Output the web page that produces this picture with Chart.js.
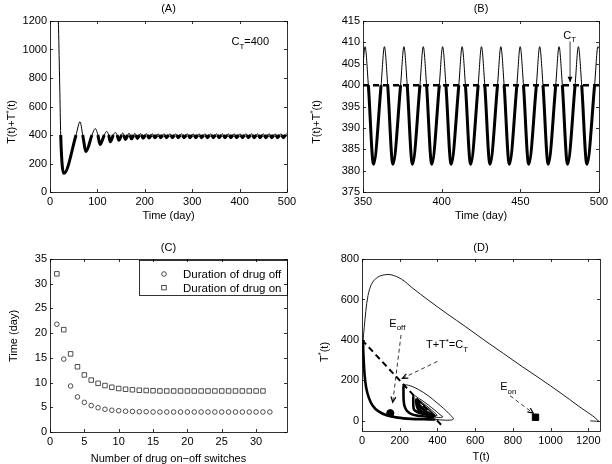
<!DOCTYPE html>
<html>
<head>
<meta charset="utf-8">
<script src="https://cdn.jsdelivr.net/npm/chart.js@4.4.0/dist/chart.umd.min.js"></script>
<style>
  body { margin: 0; background: #fff; width: 612px; height: 464px; position: relative; overflow: hidden; }
  canvas { position: absolute; }
</style>
</head>
<body>
<canvas id="panelA" width="306" height="232" style="left:0;top:0"></canvas>
<canvas id="panelB" width="306" height="232" style="left:306px;top:0"></canvas>
<canvas id="panelC" width="306" height="232" style="left:0;top:232px"></canvas>
<canvas id="panelD" width="306" height="232" style="left:306px;top:232px"></canvas>
<script>
// T(t)+T*(t) over time: C_T crossings, troughs (drug on) and peaks (drug off)
const sumTime = [
  17.2, 18.0, 20.5, 22.6, 29.5, 55.0, 63.3, 69.0,
  76.0, 88.6, 95.6, 101.0, 105.5, 114.6, 119.6, 123.8,
  127.3, 133.6, 137.9, 141.5, 145.3, 151.0, 153.3, 155.6,
  159.0, 164.3, 166.5, 168.7, 172.0, 176.8, 178.9, 181.0,
  184.4, 188.9, 191.0, 193.1, 196.4, 201.2, 203.3, 205.4,
  208.7, 213.6, 215.7, 217.8, 221.1, 225.9, 228.0, 230.1,
  233.4, 238.2, 240.3, 242.4, 245.7, 250.6, 252.7, 254.8,
  258.1, 262.9, 265.0, 267.1, 270.4, 275.2, 277.3, 279.4,
  282.7, 287.6, 289.7, 291.8, 295.1, 299.9, 302.0, 304.1,
  307.4, 312.2, 314.3, 316.4, 319.7, 324.5, 326.6, 328.7,
  332.0, 336.9, 339.0, 341.1, 344.4, 349.2, 351.3, 353.4,
  356.7, 361.5, 363.6, 365.7, 369.0, 373.9, 376.0, 378.1,
  381.4, 386.2, 388.3, 390.4, 393.7, 398.5, 400.6, 402.7,
  406.0, 410.9, 413.0, 415.1, 418.4, 423.2, 425.3, 427.4,
  430.7, 435.5, 437.6, 439.7, 443.0, 447.8, 449.9, 452.0,
  455.3, 460.2, 462.3, 464.4, 467.7, 472.5, 474.6, 476.7,
  480.0, 484.8, 486.9, 489.0, 492.3, 497.2, 499.3, 500.0
];
const sumValue = [
  1250, 1150, 750, 400, 131, 400, 493, 400,
  285, 400, 445, 400, 333, 400, 425, 400,
  352, 400, 418, 400, 363, 400, 415, 400,
  369, 400, 413, 400, 373, 400, 411.5, 400,
  376, 400, 410.5, 400, 378, 400, 410, 400,
  379.5, 400, 409.5, 400, 380.5, 400, 409.2, 400,
  381, 400, 409, 400, 381.5, 400, 409, 400,
  381.5, 400, 409, 400, 381.5, 400, 409, 400,
  381.5, 400, 409, 400, 381.5, 400, 409, 400,
  381.5, 400, 409, 400, 381.5, 400, 409, 400,
  381.5, 400, 409, 400, 381.5, 400, 409, 400,
  381.5, 400, 409, 400, 381.5, 400, 409, 400,
  381.5, 400, 409, 400, 381.5, 400, 409, 400,
  381.5, 400, 409, 400, 381.5, 400, 409, 400,
  381.5, 400, 409, 400, 381.5, 400, 409, 400,
  381.5, 400, 409, 400, 381.5, 400, 409, 400,
  381.5, 400, 409, 400, 381.5, 400, 409, 408.6
];
const ctLevel = 400;
const ctLineTime = [350, 500];

// panel C: durations per switch number
const switchNo = [1, 2, 3, 4, 5, 6, 7, 8, 9, 10, 11, 12, 13, 14, 15, 16,
  17, 18, 19, 20, 21, 22, 23, 24, 25, 26, 27, 28, 29, 30, 31, 32];
const offDuration = [21.8, 14.75, 9.3, 7.1, 6.0, 5.35, 4.9, 4.6, 4.4, 4.3, 4.2, 4.15, 4.1, 4.1, 4.05, 4.05,
  4.05, 4.05, 4.05, 4.05, 4.05, 4.05, 4.05, 4.05, 4.05, 4.05, 4.05, 4.05, 4.05, 4.05, 4.05, 4.05];
const onDuration = [32.0, 20.7, 15.8, 13.2, 11.55, 10.5, 9.85, 9.4, 9.05, 8.8, 8.65, 8.55, 8.45, 8.4, 8.35, 8.3,
  8.3, 8.3, 8.3, 8.3, 8.3, 8.3, 8.3, 8.3, 8.3, 8.3, 8.3, 8.3, 8.3, 8.3, 8.3];

// panel D: phase plane (T, T*)
const phaseT = [
  1210, 1252, 1150, 1050, 950, 850, 750, 650, 550, 450, 350, 270, 210, 154, 110, 75, 50, 32, 20, 12, 6,
  9, 14, 22, 36, 56, 86, 130, 190, 260, 330, 390,
  430, 470, 485, 462, 432, 397, 350, 300, 260, 235, 222,
  220, 221, 226, 240, 265, 305, 345, 378,
  405, 425, 428, 420, 400, 370, 335, 300, 275,
  272, 274, 285, 310, 345, 370,
  390, 398, 392, 370, 340, 310, 290,
  288, 292, 302, 320, 345, 366,
  385, 388, 383, 360, 330, 300,
  297, 302, 312, 330, 350, 368,
  385, 388, 380, 355, 325, 302,
  300, 303, 312, 325, 342, 360, 372,
  386, 388, 380, 360, 335, 312, 302,
  300, 303, 312, 325, 342, 360, 372,
  386, 388, 380, 360, 335, 312, 302
];
const phaseTs = [
  0, 1, 72, 140, 205, 268, 333, 398, 465, 530, 598, 655, 700, 722, 720, 705, 675, 620, 540, 462, 394,
  300, 225, 165, 115, 76, 48, 28, 16, 10, 8, 7,
  4, 4, 10, 35, 62, 90, 125, 155, 172, 178, 178,
  140, 100, 72, 48, 32, 24, 21, 20,
  17, 18, 22, 26, 42, 65, 90, 112, 125,
  100, 60, 48, 38, 32, 28,
  27, 27, 34, 52, 76, 96, 108,
  90, 70, 52, 40, 33, 32,
  28, 27, 32, 52, 77, 97,
  82, 66, 52, 40, 33, 30,
  27, 25, 33, 55, 80, 96,
  86, 79, 70, 58, 45, 34, 27,
  22, 21, 29, 48, 70, 88, 98,
  86, 79, 70, 58, 45, 34, 27,
  22, 21, 29, 48, 70, 88, 98
];
const ctLineT = [0, 430];
const ctLineTs = [400, -30];
const eOff = [150, 38];
const eOn = [920, 18];

const FONT = '"Liberation Sans", Arial, Helvetica, sans-serif';
Chart.defaults.font.family = FONT;
Chart.defaults.color = '#000';

function pts(xs, ys) {
    return ys.map((v, i) => ({ x: xs[i], y: v }));
}

function rich(ctx, parts, x, y, size, align) {
    const fontFor = p => (p[1] ? size * 0.72 : size) + 'px ' + FONT;
    const widths = parts.map(p => { ctx.font = fontFor(p); return ctx.measureText(p[0]).width; });
    const total = widths.reduce((a, b) => a + b, 0);
    let cx = align === 'center' ? x - total / 2 : x;
    ctx.textAlign = 'left';
    ctx.textBaseline = 'alphabetic';
    parts.forEach((p, i) => {
        ctx.font = fontFor(p);
        const dy = p[1] === 'sup' ? -size * 0.42 : (p[1] === 'sub' ? size * 0.32 : 0);
        ctx.fillText(p[0], cx, y + dy);
        cx += widths[i];
    });
}

function yTitle(ctx, parts, cx, cy) {
    ctx.save();
    ctx.translate(cx, cy);
    ctx.rotate(-Math.PI / 2);
    rich(ctx, parts, 0, 11 * 0.35, 11, 'center');
    ctx.restore();
}

function arrow(ctx, x0, y0, x1, y1, dash, filled) {
    ctx.save();
    ctx.strokeStyle = '#000';
    ctx.fillStyle = '#000';
    ctx.lineWidth = 0.8;
    ctx.setLineDash(dash || []);
    ctx.beginPath();
    ctx.moveTo(x0, y0);
    ctx.lineTo(x1, y1);
    ctx.stroke();
    ctx.setLineDash([]);
    const a = Math.atan2(y1 - y0, x1 - x0), L = 6, w = 0.42;
    ctx.beginPath();
    ctx.moveTo(x1 - L * Math.cos(a - w), y1 - L * Math.sin(a - w));
    ctx.lineTo(x1, y1);
    ctx.lineTo(x1 - L * Math.cos(a + w), y1 - L * Math.sin(a + w));
    if (filled) {
        ctx.closePath();
        ctx.fill();
    } else {
        ctx.lineWidth = 1.2;
        ctx.stroke();
    }
    ctx.restore();
}

// box with inward ticks on all four sides, then the panel's own texts
function axesPlugin(decorate) {
    return {
        id: 'matlabAxes',
        afterDraw(chart) {
            const { ctx, chartArea: a, scales: { x, y } } = chart;
            ctx.save();
            ctx.strokeStyle = '#000';
            ctx.lineWidth = 0.8;
            ctx.strokeRect(a.left + 0.5, a.top + 0.5, a.right - a.left, a.bottom - a.top);
            ctx.beginPath();
            x.ticks.forEach(t => {
                const px = Math.round(x.getPixelForValue(t.value)) + 0.5;
                ctx.moveTo(px, a.bottom); ctx.lineTo(px, a.bottom - 3);
                ctx.moveTo(px, a.top); ctx.lineTo(px, a.top + 3);
            });
            y.ticks.forEach(t => {
                const py = Math.round(y.getPixelForValue(t.value)) + 0.5;
                ctx.moveTo(a.left, py); ctx.lineTo(a.left + 3, py);
                ctx.moveTo(a.right, py); ctx.lineTo(a.right - 3, py);
            });
            ctx.stroke();
            ctx.fillStyle = '#000';
            decorate(ctx, a, x, y);
            ctx.restore();
        }
    };
}

function makePanel(id, datasets, xRange, yRange, xTicks, yTicks, pad, yWidth, xHeight, decorate) {
    return new Chart(document.getElementById(id), {
        type: 'line',
        data: { datasets: datasets },
        options: {
            responsive: false,
            animation: false,
            layout: { padding: pad },
            plugins: { legend: { display: false }, tooltip: { enabled: false } },
            scales: {
                x: {
                    type: 'linear', min: xRange[0], max: xRange[1],
                    grid: { display: false, drawTicks: false }, border: { display: false },
                    ticks: { font: { size: 11 }, color: '#000', padding: 3, maxRotation: 0, callback: v => String(v) },
                    afterBuildTicks: s => { s.ticks = xTicks.map(v => ({ value: v })); },
                    afterFit: s => { s.height = xHeight; }
                },
                y: {
                    type: 'linear', min: yRange[0], max: yRange[1],
                    grid: { display: false, drawTicks: false }, border: { display: false },
                    ticks: { font: { size: 11 }, color: '#000', padding: 3, callback: v => String(v) },
                    afterBuildTicks: s => { s.ticks = yTicks.map(v => ({ value: v })); },
                    afterFit: s => { s.width = yWidth; }
                }
            }
        },
        plugins: [axesPlugin(decorate)]
    });
}

function sumSeries() {
    return {
        data: pts(sumTime, sumValue),
        borderColor: '#000',
        borderWidth: 1,
        pointRadius: 0,
        cubicInterpolationMode: 'monotone',
        segment: {
            borderWidth: c => Math.max(c.p0.parsed.y, c.p1.parsed.y) <= ctLevel + 0.5 ? 3 : 1
        }
    };
}

const sumLabel = [['T(t)+T'], ['*', 'sup'], ['(t)']];

// (A)
makePanel('panelA', [sumSeries()], [0, 500], [0, 1200],
    [0, 100, 200, 300, 400, 500], [0, 200, 400, 600, 800, 1000, 1200],
    { left: 0, right: 19, top: 21, bottom: 0 }, 50, 40,
    (ctx, a, x, y) => {
        rich(ctx, [['(A)']], (a.left + a.right) / 2, 12, 11, 'center');
        rich(ctx, [['Time (day)']], (a.left + a.right) / 2, 219, 11, 'center');
        yTitle(ctx, sumLabel, 11.5, 122);
        rich(ctx, [['C'], ['T', 'sub'], ['=400']], x.getPixelForValue(383), y.getPixelForValue(1030), 11, 'left');
    });

// (B)
makePanel('panelB', [
    sumSeries(),
    {
        data: pts(ctLineTime, [ctLevel, ctLevel]),
        borderColor: '#000', borderWidth: 2.5, borderDash: [6, 4], pointRadius: 0
    }
], [350, 500], [375, 415],
    [350, 400, 450, 500], [375, 380, 385, 390, 395, 400, 405, 410, 415],
    { left: 0, right: 13, top: 21, bottom: 0 }, 57, 40,
    (ctx, a, x, y) => {
        rich(ctx, [['(B)']], (a.left + a.right) / 2, 12, 11, 'center');
        rich(ctx, [['Time (day)']], (a.left + a.right) / 2, 219, 11, 'center');
        yTitle(ctx, sumLabel, 10, 122);
        rich(ctx, [['C'], ['T', 'sub']], x.getPixelForValue(477.3), y.getPixelForValue(410.8), 11, 'left');
        arrow(ctx, x.getPixelForValue(481.6), y.getPixelForValue(410.2),
            x.getPixelForValue(481.6), y.getPixelForValue(400.7), null, true);
    });

// (C)
makePanel('panelC', [
    {
        data: pts(switchNo, offDuration), showLine: false,
        pointStyle: 'circle', pointRadius: 2.3, pointBorderWidth: 0.8,
        pointBorderColor: '#222', pointBackgroundColor: 'rgba(0,0,0,0)'
    },
    {
        data: pts(switchNo, onDuration), showLine: false,
        pointStyle: 'rect', pointRadius: 3.2, pointBorderWidth: 0.8,
        pointBorderColor: '#222', pointBackgroundColor: 'rgba(0,0,0,0)'
    }
], [0, 34.5], [0, 35],
    [0, 5, 10, 15, 20, 25, 30], [0, 5, 10, 15, 20, 25, 30, 35],
    { left: 0, right: 19, top: 27, bottom: 0 }, 50, 32,
    (ctx, a) => {
        rich(ctx, [['(C)']], (a.left + a.right) / 2, 19, 11, 'center');
        rich(ctx, [['Number of drug on\u2212off switches']], (a.left + a.right) / 2, 229.5, 11, 'center');
        yTitle(ctx, [['Time (day)']], 13.3, 104);
        // legend
        const bx = a.right - 148, by = a.top + 1;
        ctx.lineWidth = 0.8;
        ctx.strokeRect(Math.round(bx) + 0.5, Math.round(by) + 0.5, 148, 35);
        ctx.strokeStyle = '#222';
        ctx.beginPath();
        ctx.arc(bx + 25, by + 14, 2.3, 0, Math.PI * 2);
        ctx.stroke();
        ctx.strokeRect(bx + 22.7, by + 25.4, 4.5, 4.5);
        rich(ctx, [['Duration of drug off']], bx + 44, by + 18, 11.5, 'left');
        rich(ctx, [['Duration of drug on']], bx + 44, by + 31.5, 11.5, 'left');
    });

// (D)
makePanel('panelD', [
    {
        data: pts(phaseT, phaseTs),
        borderColor: '#000', borderWidth: 1, pointRadius: 0, tension: 0.35,
        segment: {
            borderWidth: c => Math.max(c.p0.parsed.x + c.p0.parsed.y, c.p1.parsed.x + c.p1.parsed.y) <= ctLevel + 1 ? 2.6 : 0.9
        }
    },
    {
        data: [{ x: eOff[0], y: eOff[1] }], showLine: false,
        pointStyle: 'circle', pointRadius: 3.6, pointBackgroundColor: '#000', pointBorderColor: '#000'
    },
    {
        data: [{ x: eOn[0], y: eOn[1] }], showLine: false,
        pointStyle: 'rect', pointRadius: 4.5, pointBackgroundColor: '#000', pointBorderColor: '#000'
    },
    {
        data: pts(ctLineT, ctLineTs),
        borderColor: '#000', borderWidth: 2, borderDash: [6, 4], pointRadius: 0, tension: 0
    }
], [0, 1262], [-50, 800],
    [0, 200, 400, 600, 800, 1000, 1200], [0, 200, 400, 600, 800],
    { left: 0, right: 12, top: 27, bottom: 0 }, 56, 33,
    (ctx, a, x, y) => {
        rich(ctx, [['(D)']], (a.left + a.right) / 2, 19, 11, 'center');
        rich(ctx, [['T(t)']], (a.left + a.right) / 2, 228, 11, 'center');
        yTitle(ctx, [['T'], ['*', 'sup'], ['(t)']], 18, 120);
        const X = v => x.getPixelForValue(v), Y = v => y.getPixelForValue(v);
        rich(ctx, [['E'], ['off', 'sub']], X(145), Y(465), 11, 'left');
        arrow(ctx, X(207), Y(425), X(163), Y(92), [4, 3], false);
        rich(ctx, [['T+T'], ['*', 'sup'], ['=C'], ['T', 'sub']], X(339), Y(358), 11, 'left');
        arrow(ctx, X(400), Y(294), X(214), Y(210), [4, 3], false);
        rich(ctx, [['E'], ['on', 'sub']], X(733), Y(152), 11, 'left');
        arrow(ctx, X(785), Y(124), X(908), Y(38), [4, 3], false);
    });
</script>
</body>
</html>
